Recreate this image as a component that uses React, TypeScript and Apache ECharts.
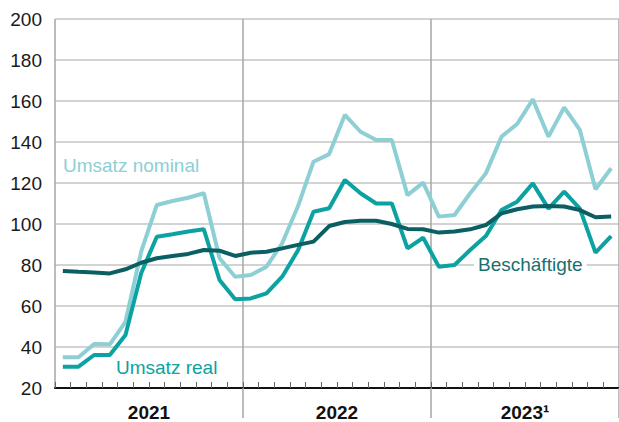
import React, { useEffect, useRef } from "react";
import * as echarts from "echarts";

const months: string[] = [];
for (const y of ["2021", "2022", "2023"]) {
  for (let m = 1; m <= 12; m++) months.push(`${y}-${m < 10 ? "0" + m : m}`);
}
const years = ["2021", "2022", "2023¹"];
const yTicks = [20, 40, 60, 80, 100, 120, 140, 160, 180, 200];

const umsatzNominal = [
  35, 35, 41.5, 41.3, 52.3, 86.5, 109.3, 111.2, 112.8, 115, 83.3, 74.3,
  75.1, 79.2, 90.6, 108.5, 130.4, 134.1, 153.2, 145, 141, 141, 114.1, 120.2,
  103.6, 104.4, 115, 124.7, 142.6, 148.8, 160.8, 142.6, 156.9, 145.9, 116.9, 127.2,
];
const umsatzReal = [
  30.4, 30.4, 36.1, 36.1, 45.9, 76, 93.8, 95, 96.3, 97.4, 72.7, 63.3,
  63.7, 66.2, 74.3, 87, 106, 107.7, 121.5, 115, 110, 110, 88.1, 93.3,
  79.2, 80, 87.3, 94.1, 106.8, 110.9, 119.8, 107.5, 115.8, 107.5, 86, 94.1,
];
const beschaeftigte = [
  77.1, 76.7, 76.4, 75.9, 77.9, 81.1, 83.3, 84.4, 85.4, 87.3, 87, 84.4,
  86, 86.5, 88.1, 89.8, 91.4, 99, 101, 101.6, 101.6, 100, 97.6, 97.4,
  95.8, 96.3, 97.4, 99.5, 105.2, 107.2, 108.5, 108.8, 108.5, 106.8, 103.3, 103.6,
];

const C_NOM = "#8dcfd4";
const C_REAL = "#0ba2a1";
const C_EMP = "#0b5f63";
const FONT = "Liberation Sans, Arial, sans-serif";

export default function App() {
  const ref = useRef<HTMLDivElement>(null);
  useEffect(() => {
    if (!ref.current) return;
    const chart = echarts.init(ref.current, undefined, { renderer: "svg" });
    chart.setOption({
      animation: false,
      grid: { left: 55, right: 0, top: 19, bottom: 34, containLabel: false },
      xAxis: [
        {
          type: "category",
          data: months,
          boundaryGap: true,
          position: "bottom",
          axisLine: { show: true, lineStyle: { color: "#111", width: 2 } },
          axisTick: {
            show: true,
            inside: true,
            length: 6,
            interval: 0,
            lineStyle: { color: "#666", width: 1 },
          },
          axisLabel: { show: false },
          splitLine: {
            show: true,
            interval: (i: number) => i === 0 || i === 12 || i === 24,
            lineStyle: { color: "#a6a6a6", width: 1.5 },
          },
        },
        {
          type: "category",
          data: years,
          boundaryGap: true,
          position: "bottom",
          axisLine: { show: false },
          axisTick: {
            show: true,
            inside: false,
            length: 30,
            interval: (i: number) => i === 1 || i === 2,
            lineStyle: { color: "#a6a6a6", width: 1.5 },
          },
          axisLabel: {
            show: true,
            interval: 0,
            margin: 15,
            fontSize: 19,
            fontWeight: "bold",
            color: "#111",
            fontFamily: FONT,
          },
          splitLine: { show: false },
        },
      ],
      yAxis: {
        type: "value",
        min: yTicks[0],
        max: yTicks[yTicks.length - 1],
        interval: 20,
        axisLine: { show: false },
        axisTick: { show: false },
        axisLabel: { fontSize: 19, color: "#1a1a1a", margin: 13, fontFamily: FONT },
        splitLine: { show: true, lineStyle: { color: "#c4c4c4", width: 1.5 } },
      },
      series: [
        {
          name: "Umsatz nominal",
          type: "line",
          data: umsatzNominal,
          symbol: "none",
          lineStyle: { color: C_NOM, width: 4 },
          z: 2,
        },
        {
          name: "Umsatz real",
          type: "line",
          data: umsatzReal,
          symbol: "none",
          lineStyle: { color: C_REAL, width: 4 },
          z: 3,
        },
        {
          name: "Beschäftigte",
          type: "line",
          data: beschaeftigte,
          symbol: "none",
          lineStyle: { color: C_EMP, width: 4 },
          z: 4,
        },
      ],
      graphic: [
        {
          type: "text",
          x: 63,
          y: 165,
          style: {
            text: "Umsatz nominal",
            fill: C_NOM,
            fontSize: 19,
            fontFamily: FONT,
            verticalAlign: "middle",
          },
        },
        {
          type: "text",
          x: 116,
          y: 367,
          style: {
            text: "Umsatz real",
            fill: C_REAL,
            fontSize: 19,
            fontFamily: FONT,
            verticalAlign: "middle",
          },
        },
        {
          type: "text",
          x: 474,
          y: 264,
          z: 10,
          style: {
            text: "Beschäftigte",
            fill: "#17706f",
            fontSize: 19,
            fontFamily: FONT,
            verticalAlign: "middle",
            backgroundColor: "#fff",
            padding: [0, 4],
          },
        },
      ],
    });
    return () => chart.dispose();
  }, []);
  return <div ref={ref} style={{ width: 619, height: 422, position: "absolute", left: 0, top: 0 }} />;
}
